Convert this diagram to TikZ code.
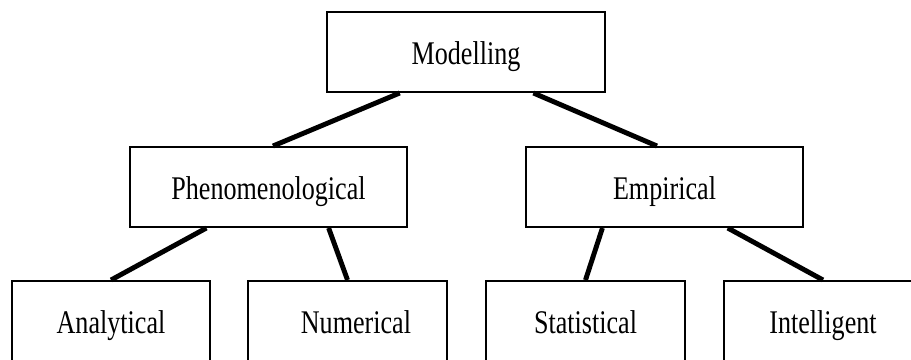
\documentclass[tikz,border=0pt]{standalone}
\usepackage{fontspec}
\setmainfont[FakeStretch=0.79]{Liberation Serif}
\usetikzlibrary{calc}

\begin{document}
\begin{tikzpicture}[x=0.025cm, y=-0.025cm,
    box/.style={draw, line width=1.4pt, minimum height=2cm, inner sep=0pt,
                text height=18pt, text depth=0pt,
                font=\fontsize{23.5}{28}\selectfont},
    topbox/.style={box, minimum width=6.94cm},
    leafbox/.style={box, minimum width=4.95cm},
    link/.style={line width=3.5pt}]
   \path[use as bounding box, clip] (0,0) rectangle (911,360);
   \node[topbox] (model) at (466,52) {Modelling};
   \node[topbox] (phen) at (268.5,187) {Phenomenological};
   \node[topbox] (emp) at (664.5,187) {Empirical};
   \node[leafbox] (anal) at (111,321) {Analytical};
   \node[leafbox] (num) at (347.5,321) {\hspace{12pt}Numerical};
   \node[leafbox] (stat) at (585.5,321) {Statistical};
   \node[leafbox] (intel) at (823,321) {Intelligent};
    \draw[link] ($(model.south west)!0.263!(model.south east)$) -- ($(phen.north west)!0.516!(phen.north east)$);
    \draw[link] ($(model.south west)!0.741!(model.south east)$) -- ($(emp.north west)!0.473!(emp.north east)$);
    \draw[link] ($(phen.south west)!0.278!(phen.south east)$) -- (anal.north);
    \draw[link] ($(phen.south west)!0.715!(phen.south east)$) -- (num.north);
    \draw[link] ($(emp.south west)!0.278!(emp.south east)$) -- (stat.north);
    \draw[link] ($(emp.south west)!0.726!(emp.south east)$) -- (intel.north);
\end{tikzpicture}
\end{document}
